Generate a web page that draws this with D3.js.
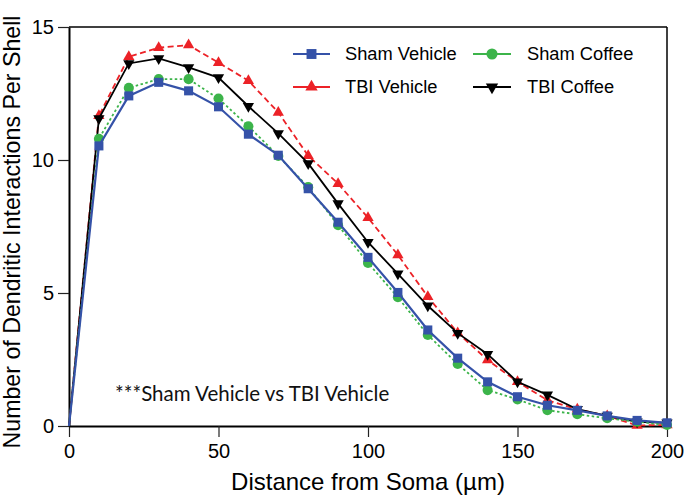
<!DOCTYPE html>
<html>
<head>
<meta charset="utf-8">
<script src="https://cdn.jsdelivr.net/npm/d3@7"></script>
<style>
  html, body { margin: 0; padding: 0; background: #fff; }
  svg { display: block; }
</style>
</head>
<body>
<svg id="chart" width="685" height="495"></svg>
<script>
// ---- data ----
const distance = [0, 10, 20, 30, 40, 50, 60, 70, 80, 90, 100, 110, 120, 130, 140, 150, 160, 170, 180, 190, 200];
const shamVehicle = [0, 10.53, 12.41, 12.92, 12.60, 12.00, 10.97, 10.18, 8.92, 7.66, 6.34, 5.02, 3.61, 2.55, 1.66, 1.10, 0.78, 0.59, 0.38, 0.21, 0.12];
const shamCoffee  = [0, 10.80, 12.71, 13.04, 13.04, 12.31, 11.27, 10.15, 8.98, 7.55, 6.13, 4.84, 3.42, 2.33, 1.35, 1.00, 0.59, 0.44, 0.29, 0.16, 0.04];
const tbiVehicle  = [0, 11.66, 13.88, 14.22, 14.32, 13.66, 12.98, 11.79, 10.16, 9.11, 7.83, 6.43, 4.86, 3.50, 2.48, 1.66, 0.97, 0.63, 0.38, 0.02, 0.04];
const tbiCoffee   = [0, 11.56, 13.63, 13.82, 13.48, 13.10, 12.02, 11.00, 9.87, 8.36, 6.91, 5.72, 4.52, 3.49, 2.70, 1.66, 1.17, 0.63, 0.38, 0.16, 0.12];
const seriesNames = ["Sham Vehicle", "Sham Coffee", "TBI Vehicle", "TBI Coffee"];
const xTicks = [0, 50, 100, 150, 200];
const yTicks = [0, 5, 10, 15];
const xTitle = "Distance from Soma (µm)";
const yTitle = "Number of Dendritic Interactions Per Shell";
const annotation = "***Sham Vehicle vs TBI Vehicle";

// ---- styles ----
const styles = {
  "Sham Vehicle": { values: shamVehicle, color: "#3552a8", dash: null, symbol: "square" },
  "Sham Coffee":  { values: shamCoffee,  color: "#3cb44a", dash: "2.5,2.5", symbol: "circle" },
  "TBI Vehicle":  { values: tbiVehicle,  color: "#ec2227", dash: "6,3.5", symbol: "triUp" },
  "TBI Coffee":   { values: tbiCoffee,   color: "#000000", dash: null, symbol: "triDown" }
};
const drawOrder = ["TBI Vehicle", "TBI Coffee", "Sham Coffee", "Sham Vehicle"];

const svg = d3.select("#chart");
const x = d3.scaleLinear().domain([0, 200]).range([69, 667]);
const y = d3.scaleLinear().domain([0, 15]).range([426, 27]);

const font = "'Liberation Sans', Arial, Helvetica, sans-serif";

function symbolPath(kind, scale) {
  const s = scale || 1;
  if (kind === "square") return d3.symbol(d3.symbolSquare, 82 * s)();
  if (kind === "circle") return d3.symbol(d3.symbolCircle, 80 * s)();
  return d3.symbol(d3.symbolTriangle, 55 * s)();
}

// frame (top + right)
svg.append("line").attr("x1", x(0)).attr("x2", x(200)).attr("y1", y(15)).attr("y2", y(15))
  .attr("stroke", "#000").attr("stroke-width", 1.5);
svg.append("line").attr("x1", x(200)).attr("x2", x(200)).attr("y1", y(15)).attr("y2", y(0))
  .attr("stroke", "#000").attr("stroke-width", 1.5);

// axes
const xAxis = svg.append("g").attr("transform", `translate(0,${y(0)})`)
  .call(d3.axisBottom(x).tickValues(xTicks).tickSize(11).tickSizeOuter(0).tickPadding(7));
const yAxis = svg.append("g").attr("transform", `translate(${x(0)},0)`)
  .call(d3.axisLeft(y).tickValues(yTicks).tickSize(11).tickSizeOuter(0).tickPadding(4));
[xAxis, yAxis].forEach(g => {
  g.select(".domain").attr("stroke", "#000").attr("stroke-width", 2);
  g.selectAll(".tick line").attr("stroke", "#222").attr("stroke-width", 1.2);
  g.selectAll(".tick text").attr("font-family", font).attr("font-size", 20).attr("fill", "#000");
});

// series
const plot = svg.append("g");
drawOrder.forEach(name => {
  const st = styles[name];
  const pts = distance.map((d, i) => [d, st.values[i]]);
  plot.append("path")
    .attr("d", d3.line().x(p => x(p[0])).y(p => y(p[1]))(pts))
    .attr("fill", "none")
    .attr("stroke", st.color)
    .attr("stroke-width", name === "Sham Vehicle" ? 2.2 : 1.8)
    .attr("stroke-dasharray", st.dash);
  plot.selectAll(null).data(pts.slice(1)).enter().append("path")
    .attr("d", symbolPath(st.symbol))
    .attr("transform", p => `translate(${x(p[0])},${y(p[1])})` + (st.symbol === "triDown" ? " rotate(180)" : ""))
    .attr("fill", st.color);
});

// legend
const legendPos = [
  { name: "Sham Vehicle", lx: 293, rx: 330, tx: 345, cy: 54 },
  { name: "Sham Coffee",  lx: 473, rx: 511, tx: 527, cy: 54 },
  { name: "TBI Vehicle",  lx: 293, rx: 330, tx: 345, cy: 87 },
  { name: "TBI Coffee",   lx: 473, rx: 511, tx: 527, cy: 87 }
];
const legend = svg.append("g");
legendPos.forEach(lp => {
  const st = styles[lp.name];
  legend.append("line").attr("x1", lp.lx).attr("x2", lp.rx).attr("y1", lp.cy).attr("y2", lp.cy)
    .attr("stroke", st.color).attr("stroke-width", 1.8);
  legend.append("path").attr("d", symbolPath(st.symbol, 1.2))
    .attr("transform", `translate(${(lp.lx + lp.rx) / 2},${lp.cy})` + (st.symbol === "triDown" ? " rotate(180)" : ""))
    .attr("fill", st.color);
  legend.append("text").attr("x", lp.tx).attr("y", lp.cy).attr("dy", "0.35em")
    .attr("font-family", font).attr("font-size", 18.3).attr("fill", "#000").text(lp.name);
});

// axis titles
svg.append("text").attr("x", (x(0) + x(200)) / 2).attr("y", 490).attr("text-anchor", "middle")
  .attr("font-family", font).attr("font-size", 24).attr("fill", "#000").text(xTitle);
svg.append("text").attr("transform", "translate(20,232) rotate(-90)").attr("text-anchor", "middle")
  .attr("font-family", font).attr("font-size", 23.2).attr("fill", "#000").text(yTitle);

// annotation
svg.append("text").attr("x", 115).attr("y", 401)
  .attr("font-family", "Lato, 'Open Sans', sans-serif").attr("font-size", 20.5).attr("fill", "#111").text(annotation);
</script>
</body>
</html>
